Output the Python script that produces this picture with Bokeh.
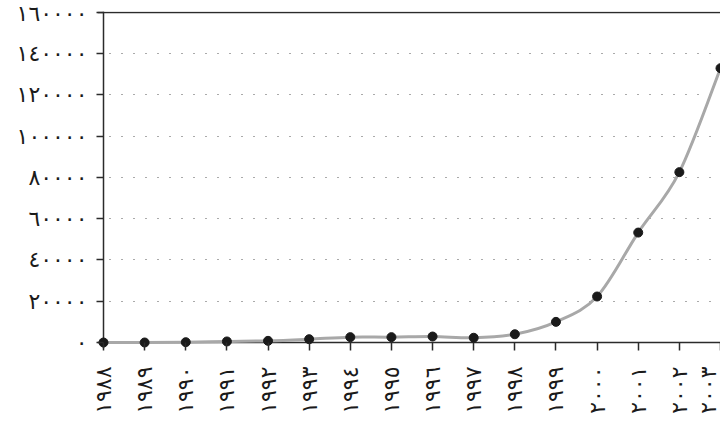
import math
from bokeh.plotting import figure
from bokeh.models import FixedTicker, Span, Range1d, ColumnDataSource, CustomJSTickFormatter
from bokeh.embed import file_html
from bokeh.resources import INLINE

years = [1988, 1989, 1990, 1991, 1992, 1993, 1994, 1995, 1996, 1997, 1998, 1999, 2000, 2001, 2002, 2003]
values = [0, 0, 150, 500, 800, 1600, 2600, 2600, 2900, 2300, 4000, 10000, 22300, 53300, 82600, 133000]
year_labels = ["١٩٨٨", "١٩٨٩", "١٩٩٠", "١٩٩١", "١٩٩٢", "١٩٩٣", "١٩٩٤", "١٩٩٥",
               "١٩٩٦", "١٩٩٧", "١٩٩٨", "١٩٩٩", "٢٠٠٠", "٢٠٠١", "٢٠٠٢", "٢٠٠٣"]
y_ticks = [0, 20000, 40000, 60000, 80000, 100000, 120000, 140000, 160000]
y_tick_labels = ["٠", "٢٠٠٠٠", "٤٠٠٠٠", "٦٠٠٠٠", "٨٠٠٠٠", "١٠٠٠٠٠", "١٢٠٠٠٠", "١٤٠٠٠٠", "١٦٠٠٠٠"]

FONT = "DejaVu Sans"
AX = "#2b2b2b"

p = figure(width=720, height=427, output_backend="svg", toolbar_location=None,
           x_range=Range1d(1987.854, 2003.0), y_range=Range1d(-2910, 160485),
           min_border_left=97, min_border_right=0, min_border_top=11, min_border_bottom=79)
p.outline_line_color = None
p.background_fill_color = "white"
p.border_fill_color = "white"

# smooth curve (Catmull-Rom -> cubic bezier) built from the data
n = len(years)
x0, y0, x1, y1, cx0, cy0, cx1, cy1 = [], [], [], [], [], [], [], []
for i in range(n - 1):
    pm = (years[max(i - 1, 0)], values[max(i - 1, 0)])
    pa = (years[i], values[i])
    pb = (years[i + 1], values[i + 1])
    pn = (years[min(i + 2, n - 1)], values[min(i + 2, n - 1)])
    x0.append(pa[0]); y0.append(pa[1]); x1.append(pb[0]); y1.append(pb[1])
    cx0.append(pa[0] + (pb[0] - pm[0]) / 6); cy0.append(pa[1] + (pb[1] - pm[1]) / 6)
    cx1.append(pb[0] - (pn[0] - pa[0]) / 6); cy1.append(pb[1] - (pn[1] - pa[1]) / 6)
bsrc = ColumnDataSource(dict(x0=x0, y0=y0, x1=x1, y1=y1, cx0=cx0, cy0=cy0, cx1=cx1, cy1=cy1))
p.bezier(x0="x0", y0="y0", x1="x1", y1="y1", cx0="cx0", cy0="cy0", cx1="cx1", cy1="cy1",
         source=bsrc, line_color="#a8a8a8", line_width=3)
p.scatter(years, values, size=9, fill_color="#1a1a1a", line_color="#1a1a1a")

# axis lines and top border
p.add_layout(Span(location=160000, dimension="width", line_color=AX, line_width=1.5))
p.add_layout(Span(location=0, dimension="width", line_color=AX, line_width=1.5, level="underlay"))
p.add_layout(Span(location=1988, dimension="height", line_color=AX, line_width=1.5, level="underlay"))

p.xgrid.grid_line_color = None
p.ygrid.ticker = FixedTicker(ticks=y_ticks[1:])
p.ygrid.grid_line_color = "#555555"
p.ygrid.grid_line_dash = "1 11"
p.ygrid.grid_line_width = 1

lookup_code = """
for (let i = 0; i < tvals.length; i++) {
    if (Math.abs(tvals[i] - tick) < 1e-6) { return tlabels[i]; }
}
return '';
"""
p.xaxis.ticker = FixedTicker(ticks=years)
p.xaxis.formatter = CustomJSTickFormatter(args=dict(tvals=years, tlabels=year_labels), code=lookup_code)
p.xaxis.major_label_orientation = math.pi / 2
p.yaxis.ticker = FixedTicker(ticks=y_ticks)
p.yaxis.formatter = CustomJSTickFormatter(args=dict(tvals=y_ticks, tlabels=y_tick_labels), code=lookup_code)

for ax in (p.xaxis, p.yaxis):
    ax.axis_line_color = None
    ax.major_tick_line_color = AX
    ax.major_tick_line_width = 1.5
    ax.minor_tick_line_color = None
    ax.major_label_text_font = FONT
    ax.major_label_text_font_size = "22px"
    ax.major_label_text_color = "#1a1a1a"
p.xaxis.major_tick_in = 6
p.xaxis.major_tick_out = 2
p.yaxis.major_tick_in = 6
p.yaxis.major_tick_out = 1
p.xaxis.major_label_standoff = 16
p.yaxis.major_label_standoff = 9

open("out.html", "w").write(file_html(p, INLINE))
